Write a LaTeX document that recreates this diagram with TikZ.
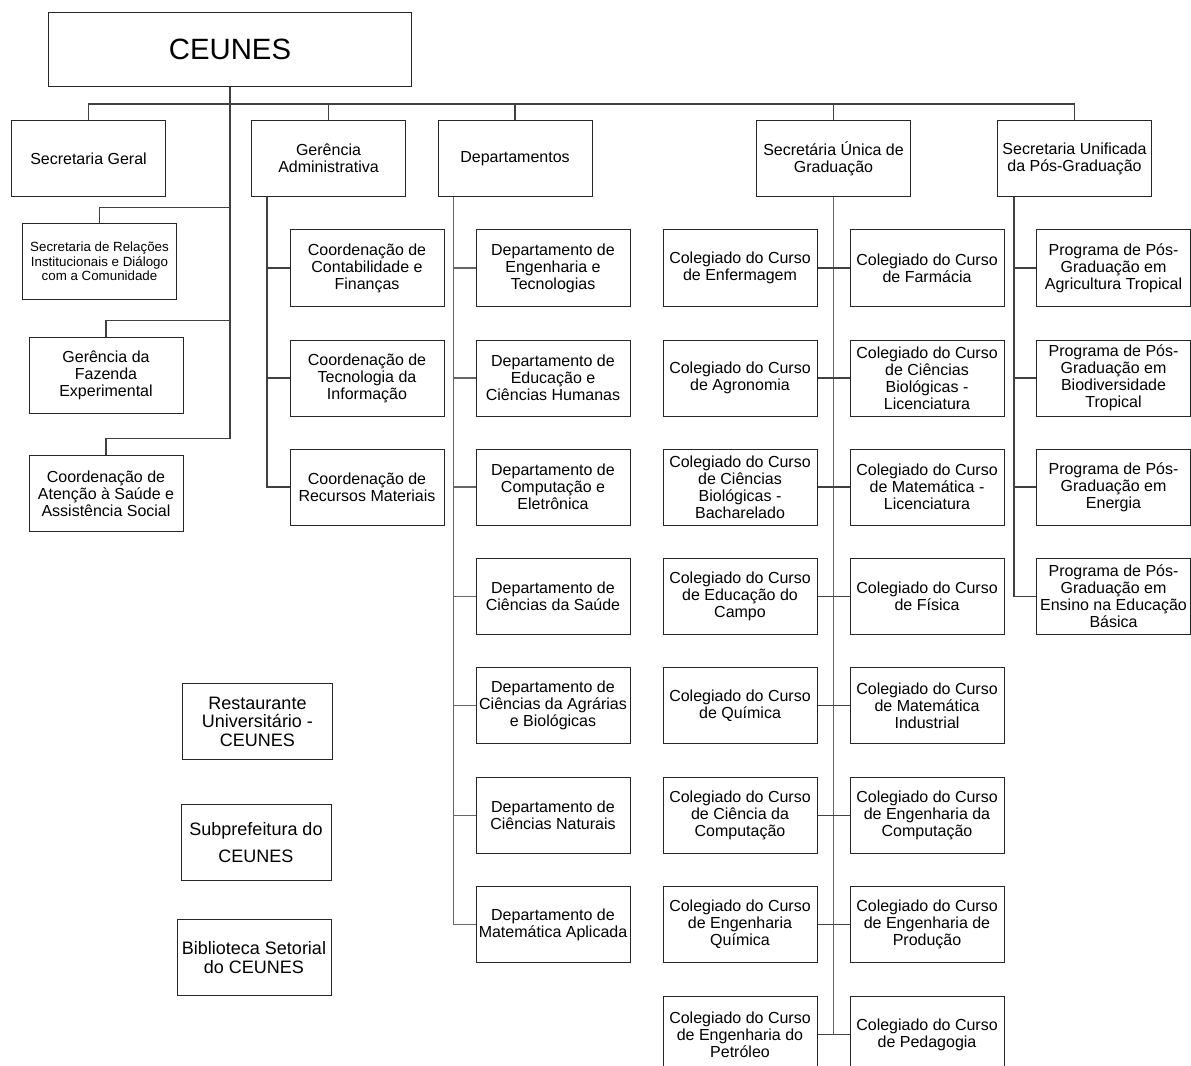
\documentclass[tikz,border=0pt]{standalone}
\usepackage{fontspec}
\setmainfont{Liberation Sans}
\tikzset{
  box/.style={draw=black!85, line width=0.75pt, align=center, inner sep=1pt,
    minimum width=115.5pt, minimum height=57pt,
    font=\fontsize{12}{12.75}\selectfont},
  link/.style={draw=black!75, line width=0.8pt},
  trunk/.style={draw=black!60, line width=1pt}
}
\begin{document}
\begin{tikzpicture}[x=0.75pt, y=-0.75pt]
      \useasboundingbox (0,0) rectangle (1191,1066);
      \node[box, minimum width=272pt, minimum height=56pt, font=\fontsize{22}{24}\selectfont] (ceunes) at (230,49.5) {CEUNES};
      \coordinate (bus) at (230,104);
      \node[box] (sg) at (88.5,158.5) {Secretaria Geral};
      \node[box] (gad) at (328.5,158.5) {Gerência\\Administrativa};
      \node[box] (dep) at (515,158.5) {Departamentos};
      \node[box] (sug) at (833.5,158.5) {Secretária Única de\\Graduação};
      \node[box] (spg) at (1074.5,158.5) {Secretaria Unificada\\da Pós-Graduação};
      \node[box, font=\fontsize{10}{10.7}\selectfont] (srel) at (99.5,261.5) {Secretaria de Relações\\Institucionais e Diálogo\\com a Comunidade};
      \node[box] (gfe) at (106,375) {Gerência da\\Fazenda\\Experimental};
      \node[box] (cas) at (106,493.5) {Coordenação de\\Atenção à Saúde e\\Assistência Social};
      \node[box] (cc1) at (367,268) {Coordenação de\\Contabilidade e\\Finanças};
      \node[box] (cc2) at (367,378) {Coordenação de\\Tecnologia da\\Informação};
      \node[box] (cc3) at (367,487) {Coordenação de\\Recursos Materiais};
      \node[box] (d1) at (553,268) {Departamento de\\Engenharia e\\Tecnologias};
      \node[box] (d2) at (553,378) {Departamento de\\Educação e\\Ciências Humanas};
      \node[box] (d3) at (553,487) {Departamento de\\Computação e\\Eletrônica};
      \node[box] (d4) at (553,596.5) {Departamento de\\Ciências da Saúde};
      \node[box] (d5) at (553,705.5) {Departamento de\\Ciências da Agrárias\\e Biológicas};
      \node[box] (d6) at (553,815.5) {Departamento de\\Ciências Naturais};
      \node[box] (d7) at (553,924.5) {Departamento de\\Matemática Aplicada};
      \node[box] (cl1) at (740,268) {Colegiado do Curso\\de Enfermagem};
      \node[box] (cl2) at (740,378) {Colegiado do Curso\\de Agronomia};
      \node[box] (cl3) at (740,487) {Colegiado do Curso\\de Ciências\\Biológicas -\\Bacharelado};
      \node[box] (cl4) at (740,596.5) {Colegiado do Curso\\de Educação do\\Campo};
      \node[box] (cl5) at (740,705.5) {Colegiado do Curso\\de Química};
      \node[box] (cl6) at (740,815.5) {Colegiado do Curso\\de Ciência da\\Computação};
      \node[box] (cl7) at (740,924.5) {Colegiado do Curso\\de Engenharia\\Química};
      \node[box] (cl8) at (740,1034.5) {Colegiado do Curso\\de Engenharia do\\Petróleo};
      \node[box] (cr1) at (927,268) {Colegiado do Curso\\de Farmácia};
      \node[box] (cr2) at (927,378) {Colegiado do Curso\\de Ciências\\Biológicas -\\Licenciatura};
      \node[box] (cr3) at (927,487) {Colegiado do Curso\\de Matemática -\\Licenciatura};
      \node[box] (cr4) at (927,596.5) {Colegiado do Curso\\de Física};
      \node[box] (cr5) at (927,705.5) {Colegiado do Curso\\de Matemática\\Industrial};
      \node[box] (cr6) at (927,815.5) {Colegiado do Curso\\de Engenharia da\\Computação};
      \node[box] (cr7) at (927,924.5) {Colegiado do Curso\\de Engenharia de\\Produção};
      \node[box] (cr8) at (927,1034.5) {Colegiado do Curso\\de Pedagogia};
      \node[box] (pg1) at (1113.5,268) {Programa de Pós-\\Graduação em\\Agricultura Tropical};
      \node[box] (pg2) at (1113.5,378) {Programa de Pós-\\Graduação em\\Biodiversidade\\Tropical};
      \node[box] (pg3) at (1113.5,487) {Programa de Pós-\\Graduação em\\Energia};
      \node[box] (pg4) at (1113.5,596.5) {Programa de Pós-\\Graduação em\\Ensino na Educação\\Básica};
      \node[box, minimum width=113pt, font=\fontsize{13.5}{13.8}\selectfont] (ru) at (257.5,721.5) {Restaurante\\Universitário -\\CEUNES};
      \node[box, minimum width=112.5pt, font=\fontsize{13.5}{20}\selectfont] (sub) at (256,842.5) {Subprefeitura do\\CEUNES};
      \node[box, font=\fontsize{13.5}{14}\selectfont] (bib) at (254,957.5) {Biblioteca Setorial\\do CEUNES};
      \draw[link] (ceunes.south) -- ++(0,351) -| (cas.north);
      \draw[link] (ceunes.south) ++(0,120) -| (srel.north);
      \draw[link] (ceunes.south) ++(0,233) -| (gfe.north);
      \draw[link] (sg.north) |- (bus) -| (spg.north);
      \draw[link] (gad.north) -- (gad.north |- bus);
      \draw[link] (dep.north) -- (dep.north |- bus);
      \draw[link] (sug.north) -- (sug.north |- bus);
      \foreach \i in {1,2,3} \draw[link] ([xshift=12pt]gad.south west) |- (cc\i.west);
      \foreach \i in {1,...,7} \draw[trunk] ([xshift=12pt]dep.south west) |- (d\i.west);
      \draw[trunk] (sug.south) -- (sug.south |- cl8.east);
      \foreach \i in {1,...,8} \draw[link] (cl\i.east) -- (cr\i.west);
      \foreach \i in {1,...,4} \draw[link] ([xshift=12.75pt]spg.south west) |- (pg\i.west);
    \end{tikzpicture}
\end{document}
